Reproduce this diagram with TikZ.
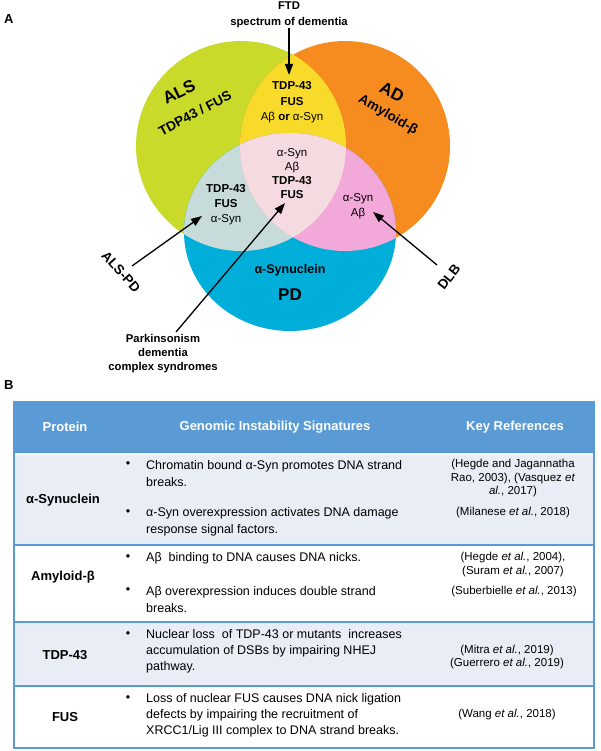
\documentclass[tikz,border=0pt]{standalone}
\usepackage{fontspec}
\setmainfont{Liberation Sans}
\usetikzlibrary{arrows.meta}
\definecolor{alsgreen}{HTML}{C9DA2A}
\definecolor{adorange}{HTML}{F68C1F}
\definecolor{pdblue}{HTML}{00AEDA}
\definecolor{ftdyellow}{HTML}{F8DA2A}
\definecolor{alspdgrey}{HTML}{C8DBDB}
\definecolor{dlbpink}{HTML}{F3A8DA}
\definecolor{allpink}{HTML}{F5DADF}
\definecolor{tabblue}{HTML}{5B9BD5}
\definecolor{tabband}{HTML}{E9EDF5}
\begin{document}
\begin{tikzpicture}[x=1pt,y=-1pt,
    pfeil/.style={-{Triangle[length=11pt,width=8pt]},line width=1.3pt},
    venn/.style={font=\fontsize{11.5}{14.5}\selectfont\bfseries,align=center,inner sep=0pt},
    gross/.style={font=\fontsize{17}{20}\selectfont\bfseries,inner sep=0pt},
    mittel/.style={font=\fontsize{13.5}{16}\selectfont\bfseries,inner sep=0pt},
    beschr/.style={font=\fontsize{11.3}{15.5}\selectfont\bfseries,align=center,inner sep=0pt},
    kopf/.style={font=\fontsize{13}{16}\selectfont\bfseries,text=white,inner sep=0pt},
    prot/.style={font=\fontsize{13}{16}\selectfont\bfseries,inner sep=0pt},
    zelle/.style={font=\fontsize{12.5}{17}\selectfont,align=left,anchor=west,inner sep=0pt},
    punkt/.style={font=\fontsize{12.5}{17}\selectfont,inner sep=0pt},
    quelle/.style={font=\fontsize{11.5}{13.5}\selectfont,align=center,inner sep=0pt}]
  \useasboundingbox (0,0) rectangle (600,751);
  % Teil A
  \node[prot,anchor=west] (teilA) at (4,19) {A};
  % Kreise
  \fill[alsgreen] (241,146) circle[radius=105pt];
  \fill[adorange] (345,146) circle[radius=105pt];
  \begin{scope}
    \clip (241,146) circle[radius=105pt];
    \fill[ftdyellow] (345,146) circle[radius=105pt];
  \end{scope}
  \fill[pdblue] (290,232) ellipse[x radius=106pt,y radius=99pt];
  \begin{scope}
    \clip (290,232) ellipse[x radius=106pt,y radius=99pt];
    \fill[alspdgrey] (241,146) circle[radius=105pt];
    \fill[dlbpink] (345,146) circle[radius=105pt];
    \clip (241,146) circle[radius=105pt];
    \fill[allpink] (345,146) circle[radius=105pt];
  \end{scope}
  % Kreise, Beschriftung
  \node[gross,rotate=26] (als) at (179,92) {ALS};
  \node[mittel,rotate=28] (alsprot) at (195,113) {TDP43 / FUS};
  \node[gross,rotate=-27] (ad) at (392,92) {AD};
  \node[mittel,rotate=-30] (adprot) at (388,115) {Amyloid-β};
  \node[font=\fontsize{12.5}{15}\selectfont\bfseries,inner sep=0pt] (pdprot) at (290,270) {α-Synuclein};
  \node[gross] (pd) at (290,295) {PD};
  % Schnittmengen
  \node[venn,font=\fontsize{11.5}{15.5}\selectfont\bfseries] (ftdset) at (292,102.5) {TDP-43\\FUS\\{\mdseries Aβ} or {\mdseries α-Syn}};
  \node[venn,font=\fontsize{11.5}{14}\selectfont\bfseries] (allset) at (292,174) {{\mdseries α-Syn}\\{\mdseries Aβ}\\TDP-43\\FUS};
  \node[venn,font=\fontsize{11.5}{15}\selectfont\bfseries] (alspdset) at (226,205) {TDP-43\\FUS\\{\mdseries α-Syn}};
  \node[venn,font=\fontsize{11.5}{15}\selectfont\bfseries] (dlbset) at (358,206.5) {{\mdseries α-Syn}\\{\mdseries Aβ}};
  % Pfeile
  \node[beschr] (ftd) at (289,15) {FTD\\spectrum of dementia};
  \coordinate (ftdtip) at (289,75);
  \draw[pfeil] (ftd.south) -- (ftdtip);
  \node[mittel,rotate=-48] (alspd) at (121,272) {ALS-PD};
  \coordinate (alspdtail) at (132,266);
  \coordinate (alspdtip) at (202,216);
  \draw[pfeil] (alspdtail) -- (alspdtip);
  \node[beschr,font=\fontsize{11.3}{14}\selectfont\bfseries] (pdc) at (163,354) {Parkinsonism\\dementia\\complex syndromes};
  \coordinate (pdctail) at (176,332);
  \coordinate (pdctip) at (285,203);
  \draw[pfeil] (pdctail) -- (pdctip);
  \node[mittel,rotate=52] (dlb) at (449,277) {DLB};
  \coordinate (dlbtail) at (437,265);
  \coordinate (dlbtip) at (373,212);
  \draw[pfeil] (dlbtail) -- (dlbtip);
  %
  % Teil B, Tabelle
  \node[prot,anchor=west] (teilB) at (4,385) {B};
  \fill[tabblue] (14,402) rectangle (594,453);
  \fill[tabband] (14,453) rectangle (594,545);
  \fill[tabband] (14,622) rectangle (594,686);
  \draw[white,line width=1pt] (14,454.5) -- (594,454.5);
  \draw[tabblue,line width=1.5pt] (14,545) -- (594,545);
  \draw[tabblue,line width=1.5pt] (14,622) -- (594,622);
  \draw[tabblue,line width=1.5pt] (14,686) -- (594,686);
  \draw[tabblue,line width=1.5pt] (14,402) rectangle (594,748);
  % Kopfzeile
  \node[kopf] (hprot) at (65,427) {Protein};
  \node[kopf] (hsig) at (275,427) {Genomic Instability Signatures};
  \node[kopf] (href) at (515,427) {Key References};
  % alpha-Synuclein
  \node[prot] (syn) at (63,500) {α-Synuclein};
  \node[punkt] (syn1p) at (128,465) {•};
  \node[zelle] (syn1) at (146,474) {Chromatin bound α-Syn promotes DNA strand\\breaks.};
  \node[punkt] (syn2p) at (128,513) {•};
  \node[zelle] (syn2) at (146,521.5) {α-Syn overexpression activates DNA damage\\response signal factors.};
  \node[quelle] (syn1r) at (513,478.5) {(Hegde and Jagannatha\\Rao, 2003), (Vasquez \textit{et}\\\textit{al.}, 2017)};
  \node[quelle] (syn2r) at (513,513) {(Milanese \textit{et al.}, 2018)};
  % Amyloid-beta
  \node[prot] (abeta) at (63,577) {Amyloid-β};
  \node[punkt] (ab1p) at (128,558) {•};
  \node[zelle] (ab1) at (146,558) {Aβ~ binding to DNA causes DNA nicks.};
  \node[punkt] (ab2p) at (128,591) {•};
  \node[zelle] (ab2) at (146,599.5) {Aβ overexpression induces double strand\\breaks.};
  \node[quelle] (ab1r) at (513,564.5) {(Hegde \textit{et al.}, 2004),\\(Suram \textit{et al.}, 2007)};
  \node[quelle] (ab2r) at (514,592) {(Suberbielle \textit{et al.}, 2013)};
  % TDP-43
  \node[prot] (tdp) at (65,655) {TDP-43};
  \node[punkt] (tdp1p) at (128,635) {•};
  \node[zelle,font=\fontsize{12.5}{16}\selectfont] (tdp1) at (146,651) {Nuclear loss~ of TDP-43 or mutants~ increases\\accumulation of DSBs by impairing NHEJ\\pathway.};
  \node[quelle,font=\fontsize{11.5}{12.5}\selectfont] (tdp1r) at (507,657) {(Mitra \textit{et al.}, 2019)\\(Guerrero \textit{et al.}, 2019)};
  % FUS
  \node[prot] (fus) at (65,717) {FUS};
  \node[punkt] (fus1p) at (128,699) {•};
  \node[zelle,font=\fontsize{12.5}{16}\selectfont] (fus1) at (146,715) {Loss of nuclear FUS causes DNA nick ligation\\defects by impairing the recruitment of\\XRCC1/Lig III complex to DNA strand breaks.};
  \node[quelle] (fus1r) at (507,715) {(Wang \textit{et al.}, 2018)};
\end{tikzpicture}
\end{document}
